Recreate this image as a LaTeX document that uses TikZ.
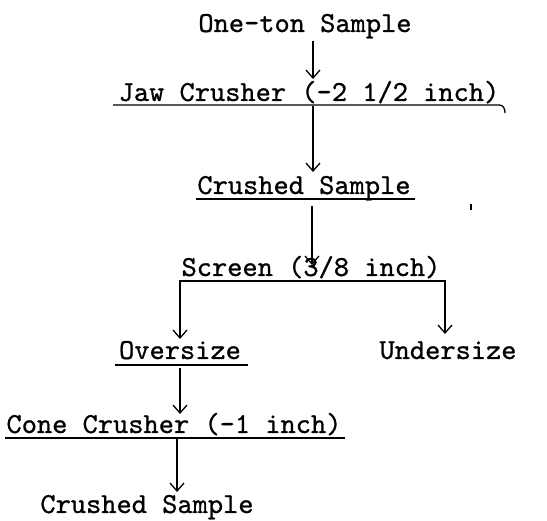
\documentclass[tikz,border=0pt]{standalone}
\usepackage{fontspec}
\newfontfamily\twfont{lmmono10-regular.otf}[FakeBold=0.8]
\usetikzlibrary{arrows.meta,calc}
\begin{document}
\begin{tikzpicture}[x=1pt,y=1pt,
  lbl/.style={font=\twfont\fontsize{29}{30}\selectfont, inner sep=0pt, anchor=base},
  barb/.tip={Straight Barb[length=8pt,width=14pt,line width=1.3pt]},
  arr/.style={line width=1.3pt, -barb},
  uline/.style={line width=1.3pt}]
\useasboundingbox (0,0) rectangle (547,-521);
% labels
\node[lbl] (one)   at (305,-32)  {One-ton Sample};
\node[lbl] (jaw)   at (309,-101) {Jaw Crusher (-2 1/2 inch)};
\node[lbl] (cs1)   at (304,-194) {Crushed Sample};
\node[lbl] (scr)   at (311,-276) {Screen (3/8 inch)};
\node[lbl] (over)  at (180,-359) {Oversize};
\node[lbl] (under) at (448,-359) {Undersize};
\node[lbl] (cone)  at (174,-433) {Cone Crusher (-1 inch)};
\node[lbl] (cs2)   at (147,-513) {Crushed Sample};
% underlines
\draw[uline] ($(jaw.base)+(-196,-4)$) -- ($(jaw.base)+(190,-4)$)
  .. controls ($(jaw.base)+(194,-4)$) and ($(jaw.base)+(196,-7)$) .. ($(jaw.base)+(196,-12)$);
\draw[uline] ($(cs1.base)+(-108,-5)$) -- ($(cs1.base)+(111,-5)$);
\draw[uline] ($(over.base)+(-65,-6)$) -- ($(over.base)+(68,-6)$);
\draw[uline] ($(cone.base)+(-169,-5)$) -- ($(cone.base)+(171,-5)$);
% arrows
\draw[arr] ($(one.base)+(8,-9)$) -- ($(jaw.base)+(4,22)$);
\draw[arr] ($(jaw.base)+(4,-5)$) -- ($(cs1.base)+(9,22)$);
\draw[arr] ($(cs1.base)+(8,-12)$) -- ($(scr.base)+(1,11)$);
\coordinate (ltip) at ($(over.base)+(0,20)$);
\coordinate (rtip) at ($(under.base)+(-3,25)$);
\coordinate (bl) at ($(scr.base)+(-131,-5)$);
\coordinate (br) at ($(scr.base)+(134,-5)$);
\draw[line width=1.3pt, barb-barb] (ltip) -- (bl) -- (br) -- (rtip);
\draw[arr] ($(over.base)+(0,-9)$) -- ($(cone.base)+(6,19)$);
\draw[arr] ($(cone.base)+(3,-5)$) -- ($(cs2.base)+(30,21)$);
% stray mark
\draw[line width=1.2pt] (471,-204) -- (471,-210);
\end{tikzpicture}
\end{document}
